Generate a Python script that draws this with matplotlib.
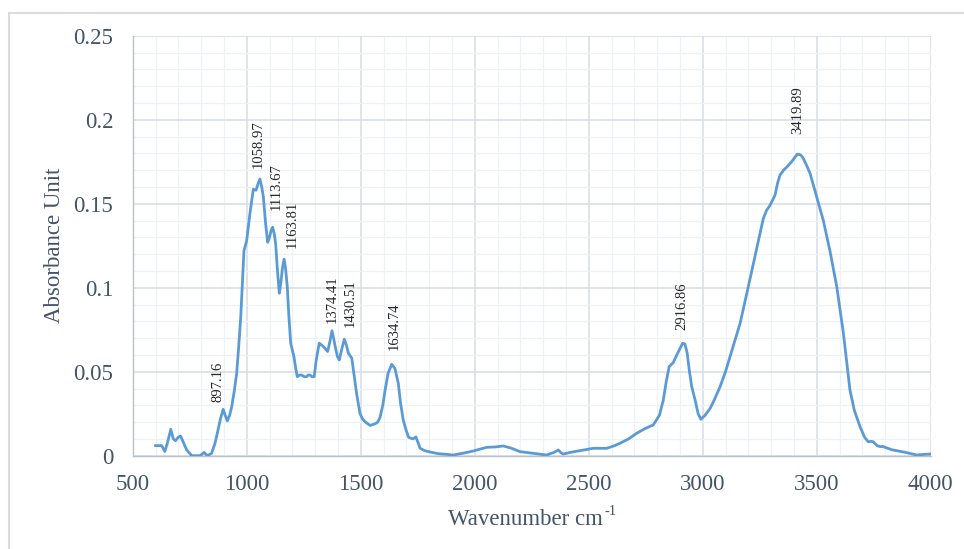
import matplotlib
matplotlib.use("Agg")
import matplotlib.pyplot as plt
from matplotlib.ticker import MultipleLocator, FuncFormatter
from matplotlib.lines import Line2D

# ---------------- data ----------------
wavenumber = [600, 627, 641, 655, 667, 678, 688, 700, 710, 722, 737, 759, 796, 813, 827, 846, 860, 871, 885, 897,
              906, 915, 925, 934, 945, 956, 965, 974, 981, 988, 1000, 1014, 1029, 1041, 1050, 1058, 1066, 1073, 1083,
              1092, 1100, 1107, 1114, 1121, 1127, 1135, 1143, 1150, 1157, 1164, 1170, 1178, 1185, 1193, 1207, 1215,
              1222, 1232, 1241, 1252, 1263, 1270, 1278, 1287, 1296, 1305, 1318, 1336, 1355, 1365, 1374, 1381, 1388,
              1398, 1406, 1418, 1428, 1437, 1446, 1461, 1470, 1482, 1497, 1508, 1519, 1541, 1563, 1575, 1585, 1597,
              1607, 1620, 1636, 1650, 1665, 1675, 1687, 1699, 1710, 1720, 1730, 1742, 1751, 1760, 1780, 1804, 1840,
              1877, 1906, 1950, 1994, 2053, 2090, 2125, 2160, 2199, 2257, 2316, 2330, 2345, 2367, 2378, 2389, 2420,
              2462, 2520, 2579, 2610, 2637, 2675, 2710, 2745, 2783, 2810, 2827, 2840, 2853, 2871, 2890, 2912, 2922,
              2932, 2942, 2952, 2967, 2980, 2992, 3010, 3032, 3050, 3076, 3100, 3120, 3140, 3164, 3200, 3237, 3266,
              3280, 3295, 3317, 3328, 3339, 3355, 3368, 3390, 3415, 3430, 3441, 3455, 3471, 3500, 3529, 3558, 3588,
              3617, 3646, 3665, 3690, 3710, 3726, 3740, 3748, 3765, 3778, 3790, 3800, 3830, 3851, 3895, 3939, 3970,
              4000]
absorbance = [0.006, 0.006, 0.0025, 0.009, 0.0157, 0.010, 0.0089, 0.011, 0.0117, 0.008, 0.0034, 0.0, 0.0, 0.002,
              0.0, 0.0014, 0.007, 0.0133, 0.022, 0.0276, 0.024, 0.0207, 0.024, 0.029, 0.038, 0.049, 0.065, 0.083,
              0.103, 0.122, 0.128, 0.144, 0.1586, 0.158, 0.162, 0.1647, 0.160, 0.154, 0.138, 0.127, 0.130, 0.134,
              0.136, 0.132, 0.126, 0.110, 0.0967, 0.103, 0.112, 0.117, 0.112, 0.1006, 0.083, 0.067, 0.059, 0.052,
              0.047, 0.048, 0.048, 0.047, 0.047, 0.048, 0.048, 0.047, 0.047, 0.057, 0.067, 0.065, 0.062, 0.068,
              0.0744, 0.070, 0.065, 0.059, 0.057, 0.064, 0.0693, 0.066, 0.061, 0.058, 0.049, 0.037, 0.025, 0.022,
              0.0202, 0.018, 0.019, 0.020, 0.023, 0.030, 0.039, 0.049, 0.0544, 0.052, 0.043, 0.031, 0.021, 0.0153,
              0.011, 0.0104, 0.010, 0.0112, 0.008, 0.0045, 0.003, 0.0022, 0.0012, 0.0008, 0.0004, 0.0015, 0.0028,
              0.005, 0.0052, 0.0058, 0.0045, 0.0024, 0.0014, 0.0004, 0.0012, 0.0018, 0.0034, 0.0018, 0.001, 0.002,
              0.003, 0.0044, 0.0044, 0.0058, 0.0074, 0.010, 0.0133, 0.016, 0.0183, 0.024, 0.033, 0.044, 0.053,
              0.0555, 0.061, 0.0669, 0.0665, 0.061, 0.050, 0.041, 0.033, 0.025, 0.0217, 0.024, 0.028, 0.033, 0.041,
              0.050, 0.059, 0.068, 0.0788, 0.1006, 0.1234, 0.1413, 0.146, 0.149, 0.155, 0.162, 0.167, 0.170, 0.1717,
              0.175, 0.1795, 0.179, 0.177, 0.173, 0.168, 0.154, 0.140, 0.122, 0.1006, 0.0729, 0.039, 0.027, 0.0173,
              0.011, 0.0083, 0.0085, 0.0083, 0.006, 0.0054, 0.0055, 0.005, 0.0035, 0.003, 0.0018, 0.0004, 0.0008,
              0.001]

peak_labels = ["897.16", "1058.97", "1113.67", "1163.81", "1374.41", "1430.51", "1634.74", "2916.86", "3419.89"]
peak_x = [897, 1058, 1114, 1164, 1374, 1428, 1636, 2912, 3415]
peak_y = [0.0276, 0.1647, 0.136, 0.117, 0.0744, 0.0693, 0.0544, 0.0669, 0.1795]

x_ticks = [500, 1000, 1500, 2000, 2500, 3000, 3500, 4000]
y_ticks = [0, 0.05, 0.1, 0.15, 0.2, 0.25]

# ---------------- style ----------------
plt.rcParams['font.family'] = ['Liberation Serif', 'DejaVu Serif']

LINE = '#5b9bd5'
TXT = '#44546a'
MAJ = '#d9dee8'
MIN = '#eef1f6'
W, H = 964, 549

fig = plt.figure(figsize=(W / 100, H / 100), dpi=100)
ax = fig.add_axes([132.7 / W, 1 - 455.7 / H, (930.7 - 132.7) / W, (455.7 - 35.7) / H])

ax.plot(wavenumber, absorbance, color=LINE, lw=2.0, solid_joinstyle='round', zorder=3)

ax.set_xlim(500, 4000)
ax.set_ylim(0, 0.25)
ax.set_xticks(x_ticks)
ax.set_yticks(y_ticks)
ax.xaxis.set_minor_locator(MultipleLocator(100))
ax.yaxis.set_minor_locator(MultipleLocator(0.01))
ax.yaxis.set_major_formatter(FuncFormatter(lambda v, p: ('%g' % round(v, 4))))

ax.grid(which='major', color=MAJ, lw=1.2, zorder=1)
ax.grid(which='minor', color=MIN, lw=0.9, zorder=0)
ax.set_axisbelow(True)

for s in ['top', 'right']:
    ax.spines[s].set_visible(False)
for s in ['left', 'bottom']:
    ax.spines[s].set_color('#b8c0cc')
    ax.spines[s].set_linewidth(1.0)

ax.tick_params(which='both', length=0)
ax.tick_params(axis='y', pad=14, labelsize=16.5, labelcolor=TXT)
ax.tick_params(axis='x', pad=13, labelsize=16.5, labelcolor=TXT)

# x axis title "Wavenumber cm" with a superscript hyphen "-1"
renderer = fig.canvas.get_renderer()
main = fig.text(0, 0, 'Wavenumber cm', fontsize=16.5, color=TXT, ha='left', va='baseline')
w_main = main.get_window_extent(renderer=renderer).width
sup_w = 12
xc = (132.7 + 930.7) / 2
x0 = xc - (w_main + sup_w) / 2
base_y = 525
main.set_position((x0 / W, 1 - base_y / H))
fig.text((x0 + w_main + 1) / W, 1 - (base_y - 10) / H, '-1', fontsize=10.5, color=TXT,
         ha='left', va='baseline')

ax.set_ylabel('Absorbance Unit', fontsize=16.5, color=TXT, labelpad=6)

# label offsets (pixels: right, up)
offsets = [(-5, 7), (-2, 11), (4, 17), (8, 11), (0, 8), (6, 12), (3, 14), (-1, 13), (0, 20)]
for lab, px, py, (dx, dy) in zip(peak_labels, peak_x, peak_y, offsets):
    ax.annotate(lab, xy=(px, py), xytext=(dx * 0.72, dy * 0.72), textcoords='offset points',
                rotation=90, ha='center', va='bottom', fontsize=10.5, color='#262626', zorder=4)

# chart-area border (left and top visible)
fig.add_artist(Line2D([8.5 / W, 8.5 / W], [0, 1 - 13 / H], transform=fig.transFigure, color='#d9dde3', lw=1.5))
fig.add_artist(Line2D([8.5 / W, 1], [1 - 13 / H, 1 - 13 / H], transform=fig.transFigure, color='#d9dde3', lw=1.5))

fig.savefig('out.png', dpi=100)
